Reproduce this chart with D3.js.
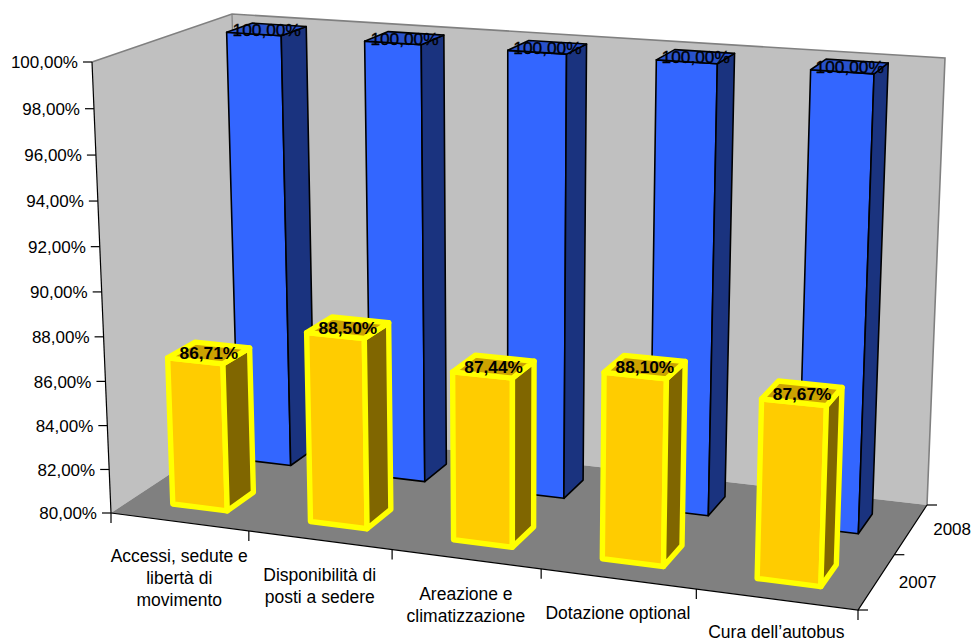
<!DOCTYPE html>
<html>
<head>
<meta charset="utf-8">
<script src="https://cdnjs.cloudflare.com/ajax/libs/d3/7.8.5/d3.min.js"></script>
<style>
  html, body { margin: 0; padding: 0; background: #fff; overflow: hidden; }
  svg { display: block; }
  text { font-family: "Liberation Sans", Arial, sans-serif; fill: #000; }
</style>
</head>
<body>
<svg id="chart" width="971" height="642"></svg>
<script>
const categories = [
  ["Accessi, sedute e", "libertà di", "movimento"],
  ["Disponibilità di", "posti a sedere"],
  ["Areazione e", "climatizzazione"],
  ["Dotazione optional"],
  ["Cura dell’autobus"]
];
const years = ["2007", "2008"];
const values2007 = [86.71, 88.50, 87.44, 88.10, 87.67];
const values2008 = [100, 100, 100, 100, 100];
const valueDomain = [80, 100];

// Corners of the chart box on screen: floor and ceiling, front-left first, clockwise via front-right.
const floorQuad = [[111, 513], [858, 610], [927, 505], [243, 426]];
const roofQuad  = [[92, 62], [875, 116.3], [945, 58], [232, 14]];
const verticalForeshortening = 0.04;

// Maps the unit square onto a quadrilateral with a perspective transform.
function quadMap(q) {
  const [[x0, y0], [x1, y1], [x2, y2], [x3, y3]] = q;
  const dx1 = x1 - x2, dx2 = x3 - x2, sx = x0 - x1 + x2 - x3;
  const dy1 = y1 - y2, dy2 = y3 - y2, sy = y0 - y1 + y2 - y3;
  const den = dx1 * dy2 - dx2 * dy1;
  const g = (sx * dy2 - dx2 * sy) / den;
  const h = (dx1 * sy - sx * dy1) / den;
  const a = x1 - x0 + g * x1, b = x3 - x0 + h * x3, c = x0;
  const d = y1 - y0 + g * y1, e = y3 - y0 + h * y3, f = y0;
  return (u, v) => {
    const w = g * u + h * v + 1;
    return [(a * u + b * v + c) / w, (d * u + e * v + f) / w];
  };
}
const floorMap = quadMap(floorQuad);
const roofMap = quadMap(roofQuad);

// Chart-space point (along categories, into depth, height 0..1) to screen position.
function project(u, v, t) {
  const p0 = floorMap(u, v), p1 = roofMap(u, v);
  const k = t / (1 + verticalForeshortening * (1 - t));
  return [p0[0] + (p1[0] - p0[0]) * k, p0[1] + (p1[1] - p0[1]) * k];
}

const xBand = d3.scaleBand().domain(d3.range(categories.length)).range([0, 1]).paddingInner(0.6).paddingOuter(0.3);
const xStep = d3.scaleLinear().domain([0, categories.length]).range([0, 1]);
const zBand = d3.scaleBand().domain(years).range([0, 1]).paddingInner(0.6).paddingOuter(0.3);
const zStep = d3.scaleLinear().domain([0, years.length]).range([0, 1]);
const hScale = d3.scaleLinear().domain(valueDomain).range([0, 1]);

const locale = d3.formatLocale({ decimal: ",", thousands: ".", grouping: [3], currency: ["", "€"] });
const fmt = v => locale.format(".2f")(v) + "%";

const svg = d3.select("#chart");
const line = pts => "M" + pts.map(p => p.join(",")).join("L") + "Z";
const open = pts => "M" + pts.map(p => p.join(",")).join("L");

// Walls and floor
svg.append("path").attr("d", line([project(0,0,0), project(0,1,0), project(0,1,1), project(0,0,1)]))
  .attr("fill", "#C0C0C0");
svg.append("path").attr("d", line([project(0,1,0), project(1,1,0), project(1,1,1), project(0,1,1)]))
  .attr("fill", "#C0C0C0");
svg.append("path").attr("d", open([project(0,0,1), project(0,1,1), project(1,1,1), project(1,1,0)]))
  .attr("fill", "none").attr("stroke", "#808080").attr("stroke-width", 1.6);
svg.append("path").attr("d", open([project(0,1,0), project(0,1,1)]))
  .attr("fill", "none").attr("stroke", "#808080").attr("stroke-width", 1.2);
svg.append("path").attr("d", line([project(0,0,0), project(1,0,0), project(1,1,0), project(0,1,0)]))
  .attr("fill", "#808080");

// Value axis
svg.append("path").attr("d", open([project(0,0,0), project(0,0,1)]))
  .attr("fill", "none").attr("stroke", "#000").attr("stroke-width", 1.2);
const yTicks = svg.append("g").selectAll("g").data(hScale.ticks(10)).join("g")
  .attr("transform", d => `translate(${project(0,0,hScale(d))})`);
yTicks.append("line").attr("x1", -9).attr("x2", 0).attr("stroke", "#000").attr("stroke-width", 1.2);
yTicks.append("text").attr("x", -14).attr("dy", "0.36em").attr("text-anchor", "end")
  .attr("font-size", 17).text(fmt);

// Floor edges and their ticks
svg.append("path").attr("d", open([project(0,0,0), project(1,0,0), project(1,1,0)]))
  .attr("fill", "none").attr("stroke", "#000").attr("stroke-width", 1.2);
d3.range(categories.length + 1).forEach(i => {
  const p = project(xStep(i), 0, 0);
  svg.append("line").attr("x1", p[0]).attr("x2", p[0]).attr("y1", p[1]).attr("y2", p[1] + 10)
    .attr("stroke", "#000").attr("stroke-width", 1.2);
});
d3.range(years.length + 1).forEach(i => {
  const p = project(1, zStep(i), 0);
  svg.append("line").attr("x1", p[0]).attr("x2", p[0] + 10).attr("y1", p[1]).attr("y2", p[1])
    .attr("stroke", "#000").attr("stroke-width", 1.2);
});

// One 3-D column: front, right side and top faces
function column(g, i, year, value, colors, stroke, width) {
  const u0 = xBand(i), u1 = u0 + xBand.bandwidth();
  const v0 = zBand(year), v1 = v0 + zBand.bandwidth();
  const t = hScale(value);
  const faces = [
    { pts: [[u0,v0,0],[u1,v0,0],[u1,v0,t],[u0,v0,t]], fill: colors[0] },
    { pts: [[u1,v0,0],[u1,v1,0],[u1,v1,t],[u1,v0,t]], fill: colors[1] },
    { pts: [[u0,v0,t],[u1,v0,t],[u1,v1,t],[u0,v1,t]], fill: colors[2] }
  ];
  g.selectAll(null).data(faces).join("path")
    .attr("d", f => line(f.pts.map(q => project(...q))))
    .attr("fill", f => f.fill)
    .attr("stroke", stroke).attr("stroke-width", width).attr("stroke-linejoin", "round");
}
function topLabel(g, i, year, value, bold) {
  const u = xBand(i) + xBand.bandwidth() / 2;
  const v = zBand(year) + zBand.bandwidth() / 2;
  const p = project(u, v, hScale(value));
  const label = g.append("text").attr("x", p[0]).attr("y", p[1]).attr("dy", "0.38em")
    .attr("text-anchor", "middle").attr("font-size", 17.3)
    .attr("font-weight", bold ? "bold" : "normal").text(fmt(value));
  if (!bold) label.attr("stroke", "#000").attr("stroke-width", 0.35);
}

const blue = ["#3366FF", "#1A337F", "#2952CC"];
const amber = ["#FFCC00", "#806600", "#CCA300"];
const back = svg.append("g"), front = svg.append("g");
values2008.forEach((v, i) => column(back, i, "2008", v, blue, "#000", 1.6));
values2008.forEach((v, i) => topLabel(back, i, "2008", v, false));
values2007.forEach((v, i) => column(front, i, "2007", v, amber, "#FFFF00", 5.4));
values2007.forEach((v, i) => topLabel(front, i, "2007", v, true));

// Category and depth labels; the lowest baseline is held inside the page
const lowestBaseline = 637.8;
categories.forEach((lines, i) => {
  const p = project(xStep(i + 0.5), 0, 0);
  svg.append("text").attr("text-anchor", "middle").attr("font-size", 17.5)
    .selectAll("tspan").data(lines).join("tspan")
    .attr("x", p[0]).attr("y", (d, k) => Math.min(p[1] + 40.5 + k * 22, lowestBaseline)).text(d => d);
});
years.forEach((y, i) => {
  const p = project(1, zStep(i + 0.5), 0);
  svg.append("text").attr("x", p[0] + 41).attr("y", p[1]).attr("dy", "0.36em")
    .attr("text-anchor", "middle").attr("font-size", 17).text(y);
});
</script>
</body>
</html>
